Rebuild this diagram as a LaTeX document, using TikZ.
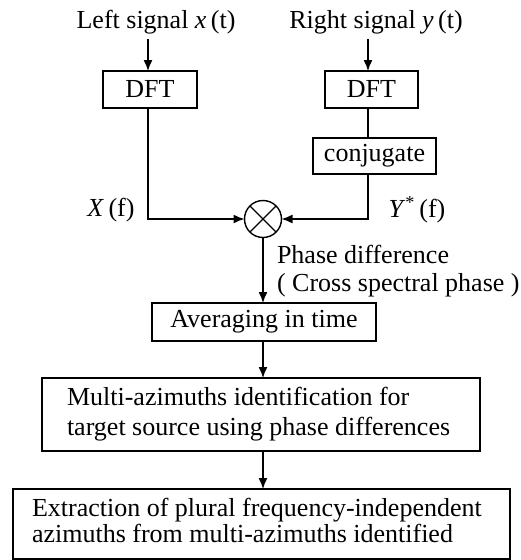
\documentclass[tikz,border=0pt]{standalone}
\usepackage{fontspec}
\setmainfont{Liberation Serif}
\usetikzlibrary{arrows.meta,calc}
\begin{document}
\begin{tikzpicture}[x=1pt,y=-1pt,
  every node/.style={inner sep=0pt, outer sep=0pt},
  font=\fontsize{26}{30}\selectfont,
  box/.style={draw, line width=1.4pt},
  ln/.style={line width=1.4pt},
  arr/.style={line width=1.4pt, -{Latex[length=11pt,width=9pt]}}]
\useasboundingbox (0,0) rectangle (521,560);
\coordinate (xL) at (148,0);
\coordinate (xR) at (368,0);
\coordinate (xC) at (263,0);
% inputs
\node (lsig) at (156,22) {Left signal \textit{x}\,(t)};
\node (rsig) at (376,22) {Right signal \textit{y}\,(t)};
% DFT boxes
\node[box, minimum width=94pt, minimum height=37pt] (dftL) at (150,89.5) {DFT};
\node[box, minimum width=93pt, minimum height=37pt] (dftR) at (371.5,89.5) {DFT};
\node[box, minimum width=123pt, minimum height=36pt] (conj) at (374.5,156) {conjugate};
% multiplier
\node[circle, draw, line width=1.4pt, minimum size=37pt] (mult) at (263,219) {};
\draw[ln] (mult.45) -- (mult.225) (mult.135) -- (mult.315);
% labels
\node (Xf) at (111,210) {\textit{X}\,(f)};
\node (Yf) at (417,210) {\textit{Y}\textsuperscript{*}\,(f)};
\node[anchor=west] (pd) at (277,254) {Phase difference};
\node[anchor=west] (csp) at (277,285) {( Cross spectral phase )};
% lower boxes
\node[box, minimum width=224pt, minimum height=38pt] (avg) at (264,322) {Averaging in time};
\node[box, minimum width=438pt, minimum height=73pt, inner xsep=25pt] (multi) at (261,414.5)
  {\makebox[388pt][l]{\begin{tabular}{@{}l@{}}Multi-azimuths identification for\\ target source using phase differences\end{tabular}}};
\node[box, minimum width=497pt, minimum height=70pt, inner xsep=19pt,
  font=\fontsize{26}{24.5}\selectfont] (extr) at (261.5,524)
  {\makebox[459pt][l]{\begin{tabular}{@{}l@{}}Extraction of plural frequency-independent\\ azimuths from multi-azimuths identified\end{tabular}}};
% connectors
\draw[arr, shorten <=5pt] (lsig.south -| xL) -- (dftL.north -| xL);
\draw[arr, shorten <=5pt] (rsig.south -| xR) -- (dftR.north -| xR);
\draw[ln] (dftR.south -| xR) -- (conj.north -| xR);
\draw[arr] (dftL.south -| xL) |- (mult.west);
\draw[arr] (conj.south -| xR) |- (mult.east);
\draw[arr] (mult.south -| xC) -- (avg.north -| xC);
\draw[arr] (avg.south -| xC) -- (multi.north -| xC);
\draw[arr] (multi.south -| xC) -- (extr.north -| xC);
\end{tikzpicture}
\end{document}
